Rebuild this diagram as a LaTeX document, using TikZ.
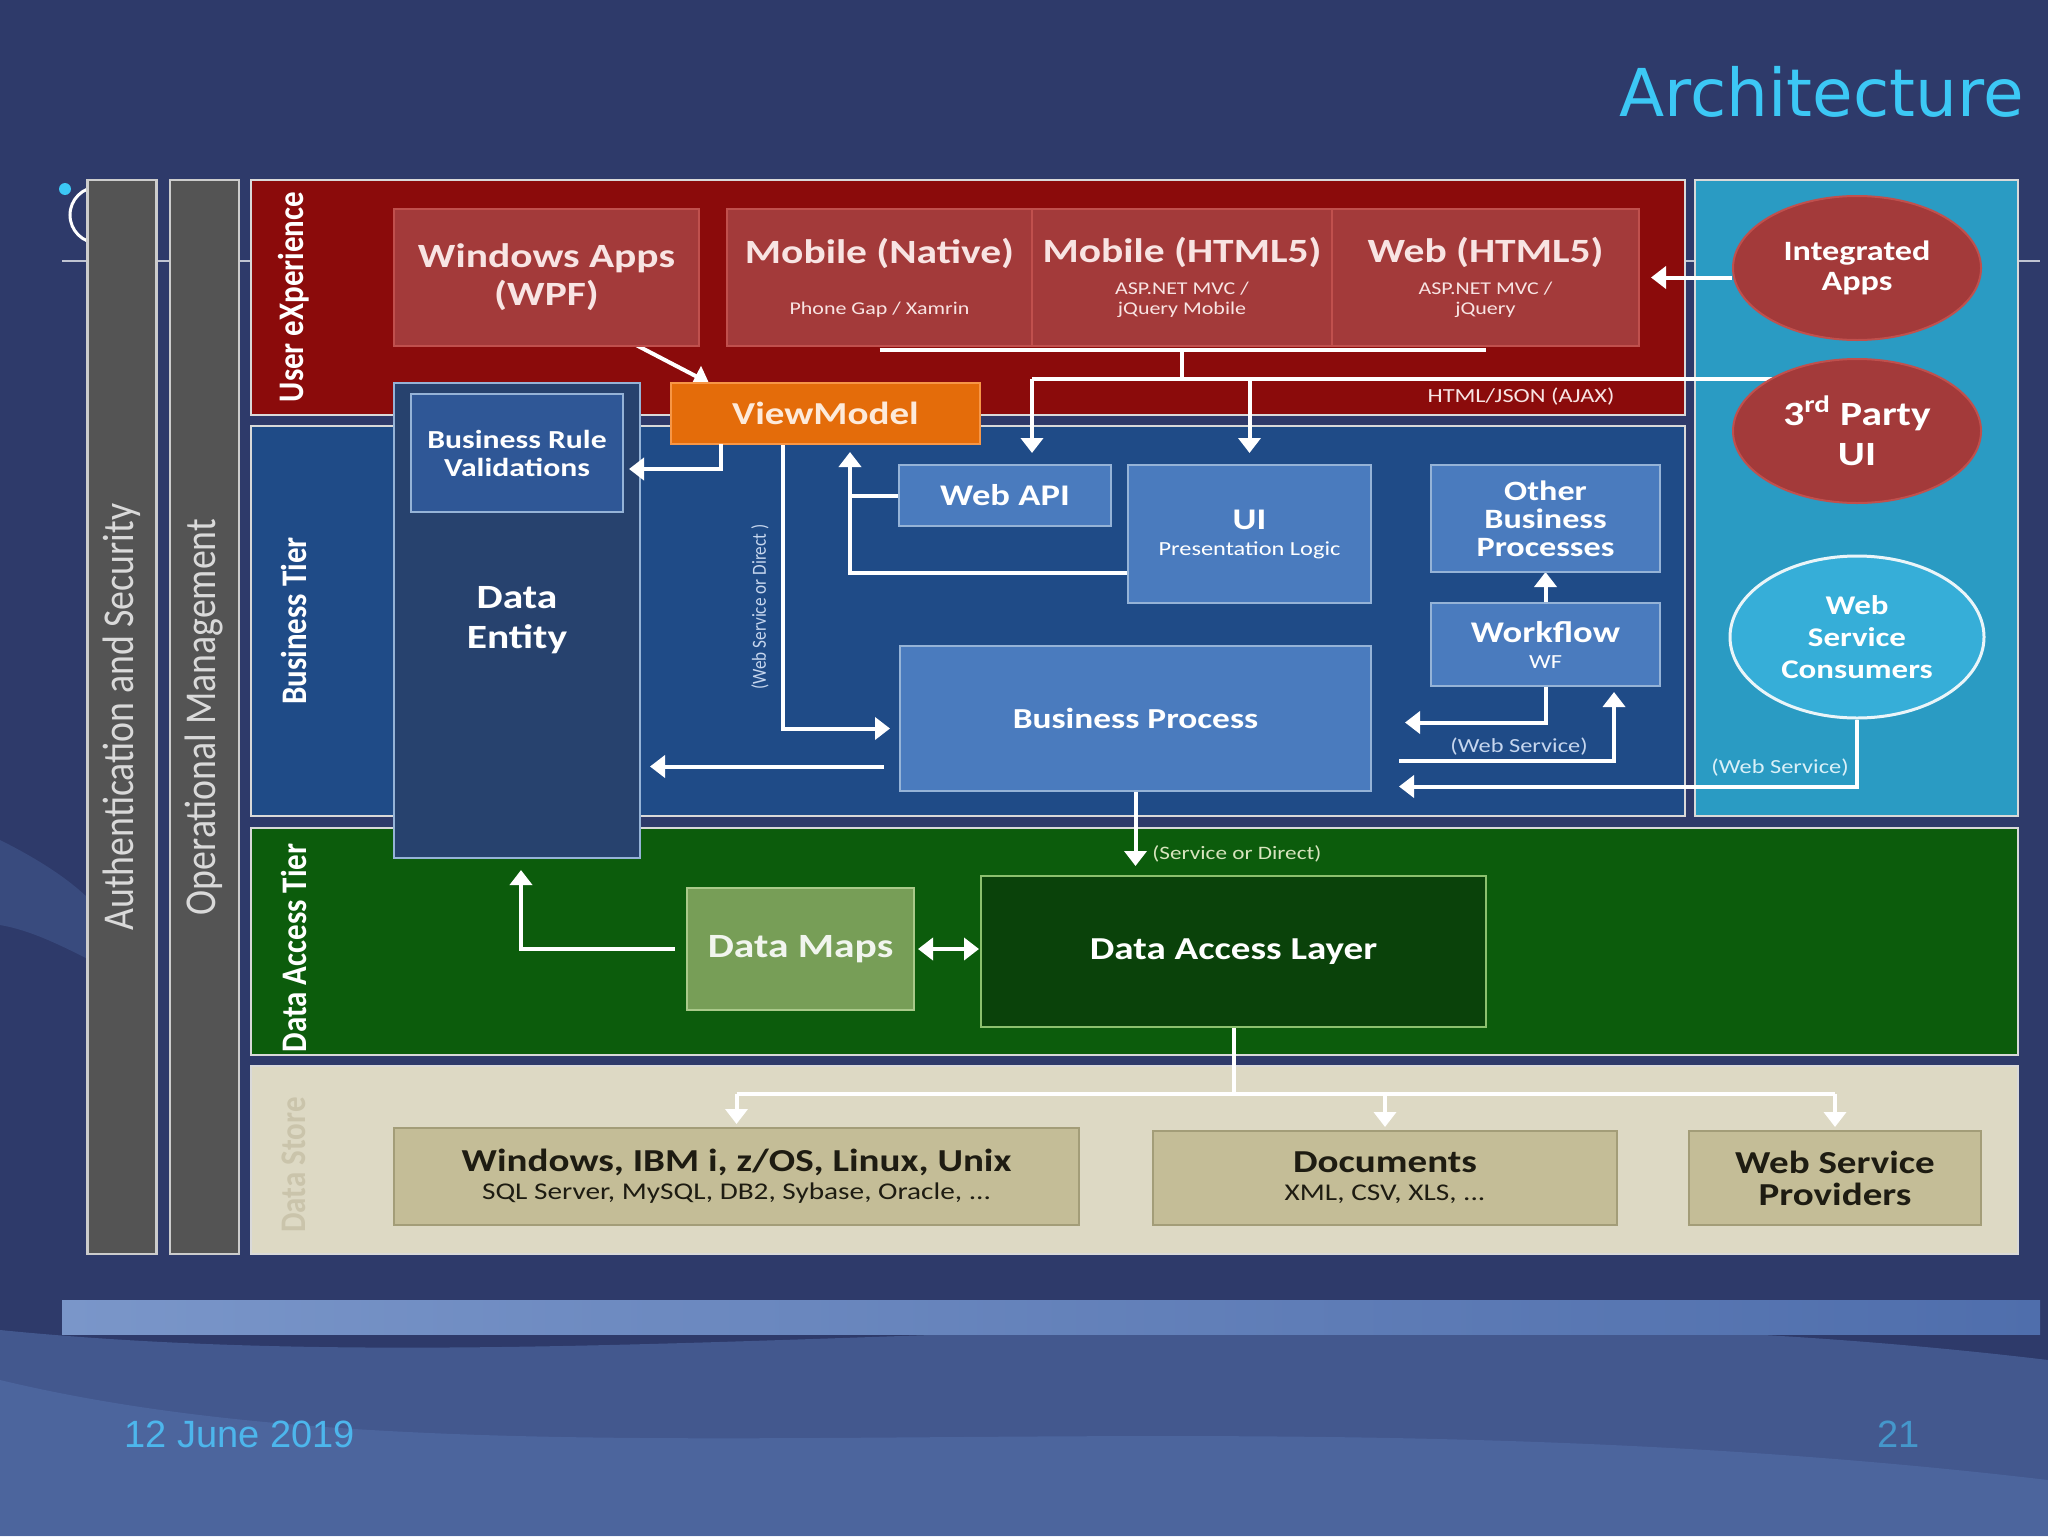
\documentclass[tikz,border=0pt]{standalone}
\usepackage{fontspec}
\setmainfont{Carlito}[FakeStretch=1.22]
\newfontfamily\sidefont{Carlito}[FakeStretch=0.86]
\newfontfamily\headfont{DejaVu Sans}
\newfontfamily\footfont{Liberation Sans}
\usetikzlibrary{arrows.meta,positioning,shapes.geometric}

\definecolor{slidebg}{HTML}{2E3A6A}
\definecolor{wavelight}{HTML}{5D7EBB}
\definecolor{bandl}{HTML}{7A96C9}
\definecolor{bandr}{HTML}{4F6EAC}
\definecolor{uxred}{HTML}{8B0B0B}
\definecolor{uxbox}{HTML}{A33A3A}
\definecolor{uxedge}{HTML}{C0504D}
\definecolor{uxtext}{HTML}{F8E4E3}
\definecolor{bizblue}{HTML}{1F4B87}
\definecolor{bizbox}{HTML}{4A7BBE}
\definecolor{bizedge}{HTML}{95B3D7}
\definecolor{entblue}{HTML}{27426E}
\definecolor{ruleblue}{HTML}{2F5796}
\definecolor{sidecyan}{HTML}{2A9BC3}
\definecolor{wscfill}{HTML}{36AED8}
\definecolor{vmorange}{HTML}{E46C0A}
\definecolor{vmedge}{HTML}{F79646}
\definecolor{vmtext}{HTML}{FDEADA}
\definecolor{dagreen}{HTML}{0C5C0C}
\definecolor{mapsgreen}{HTML}{779E57}
\definecolor{mapsedge}{HTML}{A9C98A}
\definecolor{dalgreen}{HTML}{0A420A}
\definecolor{daledge}{HTML}{8CC06E}
\definecolor{storebg}{HTML}{DDD9C4}
\definecolor{storebox}{HTML}{C4BD97}
\definecolor{storeedge}{HTML}{A39D78}
\definecolor{storetext}{HTML}{1E1C12}
\definecolor{storelabel}{HTML}{CAC4AB}
\definecolor{bargray}{HTML}{545454}
\definecolor{noteblue}{HTML}{C6D6EE}
\definecolor{notecyan}{HTML}{D9F0F8}
\definecolor{notegreen}{HTML}{D7E4BD}
\definecolor{titlecyan}{HTML}{3CC8F5}
\definecolor{footblue}{HTML}{4DB6EC}

\newcommand{\subtxt}[1]{{\mdseries\fontsize{9}{10}\selectfont #1}}

\pgfdeclarelayer{back}
\pgfdeclarelayer{wires}
\pgfsetlayers{back,wires,main}

\begin{document}
\begin{tikzpicture}[
  x=0.5pt, y=-0.5pt,
  tier/.style={draw=white!85!black, line width=1.3pt, inner sep=0pt, outer sep=0pt},
  tierlabel/.style={rotate=90, text=white, inner sep=0pt,
    font=\sidefont\bfseries\fontsize{18}{18}\selectfont},
  bar/.style={draw=white!80!black, fill=bargray, line width=1.3pt, rotate=90,
    text=white!85!black, minimum height=34.5pt, minimum width=537pt,
    inner sep=0pt, font=\sidefont\fontsize{22}{22}\selectfont},
  uxbox/.style={draw=uxedge, fill=uxbox, line width=0.6pt, text=uxtext,
    align=center, inner sep=0pt, outer sep=0pt, minimum height=68.5pt,
    font=\bfseries\fontsize{17}{19}\selectfont},
  bizbox/.style={draw=bizedge, fill=bizbox, line width=0.6pt, text=white,
    align=center, inner sep=0pt, outer sep=0pt,
    font=\bfseries\fontsize{15}{15}\selectfont},
  blob/.style={ellipse, draw=uxedge, fill=uxbox, line width=1pt, text=white,
    align=center, inner sep=0pt, minimum width=124pt, minimum height=72pt,
    font=\bfseries\fontsize{14}{15}\selectfont},
  store/.style={draw=storeedge, fill=storebox, line width=0.8pt, text=storetext,
    align=center, inner sep=0pt, outer sep=0pt, minimum height=47pt,
    font=\bfseries\fontsize{16}{16}\selectfont},
  note/.style={inner sep=0pt, font=\fontsize{10}{10}\selectfont},
  wire/.style={draw=white, line width=2pt},
  flow/.style={wire, -{Triangle[width=11pt,length=7.5pt]}},
]
  \begin{pgfonlayer}{back}
    % slide background
    \fill[slidebg] (0,0) rectangle (2048,1536);
    \fill[wavelight, opacity=0.45] (0,1330) .. controls (600,1390) and (1300,1270) .. (2048,1360)
      -- (2048,1536) -- (0,1536) -- cycle;
    \fill[wavelight, opacity=0.35] (0,1380) .. controls (500,1500) and (1200,1380) .. (2048,1480)
      -- (2048,1536) -- (0,1536) -- cycle;
    \fill[wavelight, opacity=0.25] (0,840) .. controls (40,860) and (70,880) .. (90,900)
      -- (90,960) .. controls (60,945) and (30,930) .. (0,925) -- cycle;
    \shade[left color=bandl, right color=bandr] (62,1300) rectangle (2040,1334);
    \draw[white!70!slidebg, line width=0.6pt] (62,261) -- (2040,261);
    \draw[white, line width=1.5pt] (98,215) circle[radius=28];
    \fill[titlecyan] (65,189) circle[radius=6];

    % tiers
    \node[bar] (auth) at (122,717) {Authentication and Security};
    \node[bar] (ops) at (204.5,717) {Operational Management};
    \node[tier, fill=uxred, minimum width=717pt, minimum height=117.5pt] (ux) at (968,297.5) {};
    \node[tier, fill=bizblue, minimum width=717pt, minimum height=195pt] (biz) at (968,621) {};
    \node[tier, fill=sidecyan, minimum width=161.5pt, minimum height=318pt] (side) at (1856.5,498) {};
    \node[tier, fill=dagreen, minimum width=883.5pt, minimum height=113.5pt] (dat) at (1134.5,941.5) {};
    \node[tier, fill=storebg, minimum width=883.5pt, minimum height=94pt] (dstore) at (1134.5,1160) {};
  \end{pgfonlayer}
  \useasboundingbox (0,0) rectangle (2048,1536);

  \node[tierlabel] (uxlbl) at (294,297) {User eXperience};
  \node[tierlabel] (bizlbl) at (294,621) {Business Tier};
  \node[tierlabel] (datlbl) at (294,948) {Data Access Tier};
  \node[tierlabel, text=storelabel] (storelbl) at (294,1165) {Data Store};

  % user experience
  \node[uxbox, minimum width=152.5pt] (win) at (546.5,277.5) {Windows Apps\\(WPF)};
  \node[uxbox, minimum width=152.5pt] (mnat) at (879.5,277.5)
    {Mobile (Native)\\[6.5pt]\subtxt{Phone Gap / Xamrin}};
  \node[uxbox, minimum width=150pt, right=0pt of mnat] (mhtml)
    {Mobile (HTML5)\\[-3pt]\subtxt{ASP.NET MVC /}\\[-9pt]\subtxt{jQuery Mobile}};
  \node[uxbox, minimum width=153.5pt, right=0pt of mhtml] (web)
    {Web (HTML5)\\[-3pt]\subtxt{ASP.NET MVC /}\\[-9pt]\subtxt{jQuery}};
  \node[draw=vmedge, fill=vmorange, line width=0.8pt, text=vmtext, inner sep=0pt, outer sep=0pt,
    minimum width=154.5pt, minimum height=30.5pt, font=\bfseries\fontsize{16}{16}\selectfont]
    (vm) at (825.5,413.5) {ViewModel};

  % right column
  \node[blob] (integ) at (1857,268) {Integrated\\Apps};
  \node[blob, font=\bfseries\fontsize{17}{20}\selectfont] (third) at (1857,431) {3\textsuperscript{rd} Party\\UI};
  \node[blob, draw=white!90!sidecyan, fill=wscfill, line width=1.5pt, minimum width=127pt,
    minimum height=81pt, font=\bfseries\fontsize{13.5}{16}\selectfont] (wsc) at (1857,637)
    {Web\\Service\\Consumers};

  % business tier
  \node[draw=bizedge, fill=entblue, line width=0.6pt, text=white, align=center,
    inner sep=0pt, outer sep=0pt, minimum width=123pt, minimum height=237.5pt,
    font=\bfseries\fontsize{17}{20}\selectfont] (ent) at (517,620.5) {Data\\Entity};
  \node[bizbox, fill=ruleblue, minimum width=106pt, minimum height=59pt,
    font=\bfseries\fontsize{13}{14}\selectfont] (rule) at (517,453) {Business Rule\\Validations};
  \node[bizbox, minimum width=106pt, minimum height=30.5pt] (api) at (1005,495.5) {Web API};
  \node[bizbox, minimum width=121.5pt, minimum height=69pt] (ui) at (1249.5,534)
    {UI\\[-2pt]{\mdseries\fontsize{10}{10}\selectfont Presentation Logic}};
  \node[bizbox, minimum width=114.5pt, minimum height=53.5pt,
    font=\bfseries\fontsize{14}{14}\selectfont] (obp) at (1545.5,518.5) {Other\\Business\\Processes};
  \node[bizbox, minimum width=114.5pt, minimum height=41.5pt] (wf) at (1545.5,644.5)
    {Workflow\\[-2pt]{\mdseries\fontsize{10}{10}\selectfont WF}};
  \node[bizbox, minimum width=235.5pt, minimum height=72.5pt,
    font=\bfseries\fontsize{14.5}{15}\selectfont] (bp) at (1135.5,718.5) {Business Process};

  % data access tier
  \node[draw=mapsedge, fill=mapsgreen, line width=0.8pt, text=white!90!mapsgreen,
    inner sep=0pt, outer sep=0pt, minimum width=113.5pt, minimum height=61pt,
    font=\bfseries\fontsize{17}{17}\selectfont] (maps) at (800.5,949) {Data Maps};
  \node[draw=daledge, fill=dalgreen, line width=0.8pt, text=white, inner sep=0pt,
    outer sep=0pt, minimum width=252.5pt, minimum height=75.5pt,
    font=\bfseries\fontsize{16}{16}\selectfont] (dal) at (1233.5,951.5) {Data Access Layer};

  % data store
  \node[store, minimum width=342.5pt, minimum height=48.5pt] (db) at (736.5,1176.5)
    {Windows, IBM i, z/OS, Linux, Unix\\[-2pt]{\mdseries\fontsize{12}{12}\selectfont SQL Server, MySQL, DB2, Sybase, Oracle, ...}};
  \node[store, minimum width=232pt] (docs) at (1385,1178)
    {Documents\\[-2pt]{\mdseries\fontsize{12}{12}\selectfont XML, CSV, XLS, ...}};
  \node[store, minimum width=146pt] (wsp) at (1835,1178) {Web Service\\Providers};

  % connector labels
  \node[note, text=uxtext] (ajaxlbl) at (1521,397) {HTML/JSON (AJAX)};
  \node[note, rotate=90, text=noteblue, font=\sidefont\fontsize{10}{10}\selectfont] (wsdlbl)
    at (760,607) {(Web Service or Direct )};
  \node[note, text=noteblue] (wslbl) at (1519,747) {(Web Service)};
  \node[note, text=notecyan] (wsclbl) at (1780,768) {(Web Service)};
  \node[note, anchor=west, text=notegreen, font=\fontsize{9.5}{10}\selectfont] (sodlbl)
    at (1152,854) {(Service or Direct)};

  % connectors
  \begin{pgfonlayer}{wires}
    \coordinate (ajax) at ([yshift=-16.5pt]mhtml.south);
    \coordinate (uprise) at ([xshift=-65pt]vm.south east);
    \coordinate (fan) at ([yshift=-33.5pt]dal.south);
    \draw[flow] ([shift={(40pt,3pt)}]win.south) -- ([xshift=19pt]vm.north west);
    \draw[wire] ([yshift=-2pt]mnat.south) -- ([yshift=-2pt]web.south);
    \draw[wire] ([yshift=-2pt]mhtml.south) -- (ajax);
    \draw[wire] (ajax -| mhtml.west) -- (ajax -| third.center);
    \draw[flow, shorten >=6pt] (ajax -| mhtml.west) -- (mhtml.west |- api.north);
    \draw[flow, shorten >=6pt] (ajax -| ui.north) -- (ui.north);
    \draw[flow, shorten >=6pt] (web.east -| integ.west) -- (web.east);
    \draw[flow, shorten >=5pt] ([xshift=56pt]vm.south west) |- ([yshift=-5pt]bp.west);
    \draw[flow, shorten >=4pt] ([yshift=15pt]ui.south west) -| (uprise);
    \draw[wire] (api.west) -- (api.west -| uprise);
    \draw[flow] (wf.north) -- (obp.south);
    \draw[flow, shorten >=17pt] (wf.south) |- ([yshift=-2pt]bp.east);
    \draw[flow, shorten >=3pt] ([shift={(14pt,-21pt)}]bp.east) -| ([xshift=-23pt]wf.south east);
    \draw[flow] (wsc.south) |- ([shift={(14pt,-34pt)}]bp.east);
    \draw[flow, shorten <=8pt, shorten >=5pt] ([yshift=-24pt]bp.west) -- ([yshift=-24pt]bp.west -| ent.east);
    \draw[flow, shorten >=5pt] (bp.south) -- (bp.south |- dal.north);
    \draw[wire, {Triangle[width=11pt,length=7.5pt]}-{Triangle[width=11pt,length=7.5pt]},
      shorten <=2pt, shorten >=1pt] (maps.east) -- (maps.east -| dal.west);
    \draw[flow, shorten <=6pt, shorten >=6pt] (maps.west) -| ([xshift=2pt]ent.south);
    \draw[wire] (dal.south) -- (fan);
    \draw[wire] (fan -| db.north) -- (fan -| wsp.north);
    \foreach \s in {db,docs,wsp}
      \draw[flow, shorten >=2pt] (fan -| \s.north) -- (\s.north);
  \end{pgfonlayer}
  \draw[flow, shorten >=3pt] ([xshift=25pt]vm.south west) |- ([yshift=-8pt]rule.east);

  % slide texts
  \node[anchor=east, inner sep=0pt, text=titlecyan, font=\headfont\fontsize{33}{36}\selectfont]
    (title) at (2024,92) {Architecture};
  \node[anchor=west, inner sep=0pt, text=footblue, font=\footfont\fontsize{19}{22}\selectfont]
    (date) at (124,1434) {12 June 2019};
  \node[anchor=east, inner sep=0pt, text=footblue!75!slidebg, font=\footfont\fontsize{19}{22}\selectfont]
    (pageno) at (1920,1434) {21};
\end{tikzpicture}
\end{document}
